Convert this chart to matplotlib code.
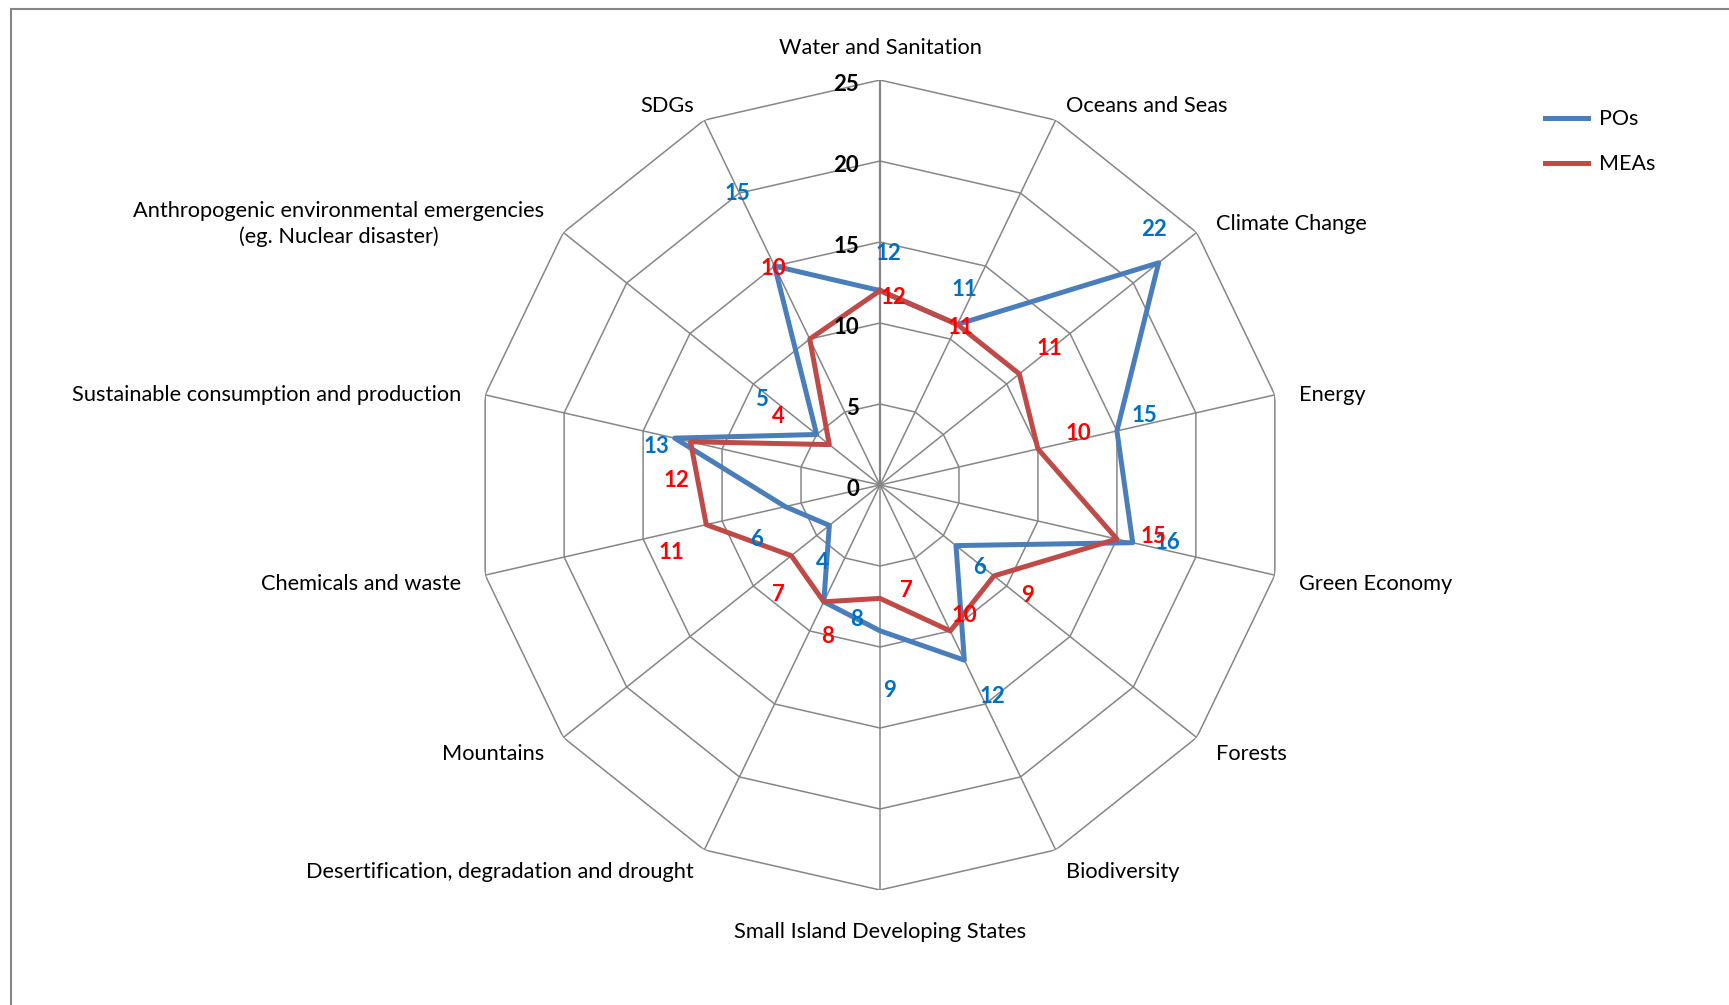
import numpy as np
import matplotlib
matplotlib.use('Agg')
import matplotlib.pyplot as plt
from matplotlib.patches import Rectangle

plt.rcParams['font.family'] = ['Lato', 'DejaVu Sans']

categories = ['Water and Sanitation', 'Oceans and Seas', 'Climate Change', 'Energy',
              'Green Economy', 'Forests', 'Biodiversity', 'Small Island Developing States',
              'Desertification, degradation and drought', 'Mountains', 'Chemicals and waste',
              'Sustainable consumption and production',
              'Anthropogenic environmental emergencies\n(eg. Nuclear disaster)', 'SDGs']
pos_values = [12, 11, 22, 15, 16, 6, 12, 9, 8, 4, 6, 13, 5, 15]
mea_values = [12, 11, 11, 10, 15, 9, 10, 7, 8, 7, 11, 12, 4, 10]
ticks = [0, 5, 10, 15, 20, 25]

# where the value labels sit relative to their point (points), like the excel chart
pos_offsets = [(6, 27), (5, 25), (-3, 24), (20, 11), (25, 0), (17, -16), (20, -26),
               (7, -43), (24, -13), (-5, -27), (-21, -24), (-13, -6), (-40, 25), (-27, 52)]
mea_offsets = [(10, -5), (2, -2), (22, 18), (29, 11), (26, 2), (24, -14), (10, 11),
               (19, 6), (3, -25), (-9, -28), (-25, -20), (-10, -28), (-37, 20), (-26, 51)]

blue = '#4A7EBB'
red = '#BE4B48'
grid_col = '#868686'

n = len(categories)
theta = np.arange(n) * 2 * np.pi / n
theta_c = np.append(theta, theta[0])

fig = plt.figure(figsize=(17.29, 10.05), dpi=100)
ax = fig.add_axes([475 / 1729, 115 / 1005, 810 / 1729, 810 / 1005], projection='polar')
ax.set_theta_zero_location('N')
ax.set_theta_direction(-1)
ax.set_ylim(0, 25)
ax.grid(False)
ax.set_xticks([])
ax.set_yticks([])
ax.spines['polar'].set_visible(False)

# polygon grid and spokes
for t in ticks[1:]:
    ax.plot(theta_c, [t] * (n + 1), color=grid_col, lw=1.1, zorder=1)
for th in theta:
    ax.plot([th, th], [0, 25], color=grid_col, lw=1.1 if th != 0 else 1.6, zorder=1)

ax.plot(theta_c, pos_values + pos_values[:1], color=blue, lw=3.6, zorder=3, label='POs')
ax.plot(theta_c, mea_values + mea_values[:1], color=red, lw=3.6, zorder=3, label='MEAs')

for i in range(n):
    ax.annotate(str(pos_values[i]), xy=(theta[i], pos_values[i]), xytext=pos_offsets[i],
                textcoords='offset points', ha='center', va='center', color='#0070C0',
                fontsize=16, fontweight='bold', zorder=5)
    ax.annotate(str(mea_values[i]), xy=(theta[i], mea_values[i]), xytext=mea_offsets[i],
                textcoords='offset points', ha='center', va='center', color='#FF0000',
                fontsize=16, fontweight='bold', zorder=5)

for t in ticks:
    ax.annotate(str(t), xy=(0, t), xytext=(-15, -3), textcoords='offset points',
                ha='right', va='center', fontsize=16, fontweight='bold', color='black')

for i, th in enumerate(theta):
    s = np.sin(th)
    c = np.cos(th)
    if abs(s) < 1e-6:
        ha = 'center'
        r = 27.0 if c > 0 else 27.6
        dy = 0
    else:
        ha = 'left' if s > 0 else 'right'
        r = 26.5
        dy = -3 - 3 * c
    ax.annotate(categories[i], xy=(th, r), xytext=(0, dy), textcoords='offset points',
                ha=ha, va='center', fontsize=15.7, multialignment='center',
                linespacing=1.35, color='black', annotation_clip=False)

fig.legend(loc='upper left', bbox_to_anchor=(1526 / 1729, 1 - 90 / 1005), frameon=False,
           fontsize=15.5, handlelength=2.0, handletextpad=0.5, labelspacing=1.15)

fig.add_artist(Rectangle((11 / 1729, -0.5), 2, 1.5 - 9 / 1005, fill=False,
                         edgecolor=grid_col, lw=1.5, transform=fig.transFigure, clip_on=False))

fig.savefig('out.png', dpi=100)
